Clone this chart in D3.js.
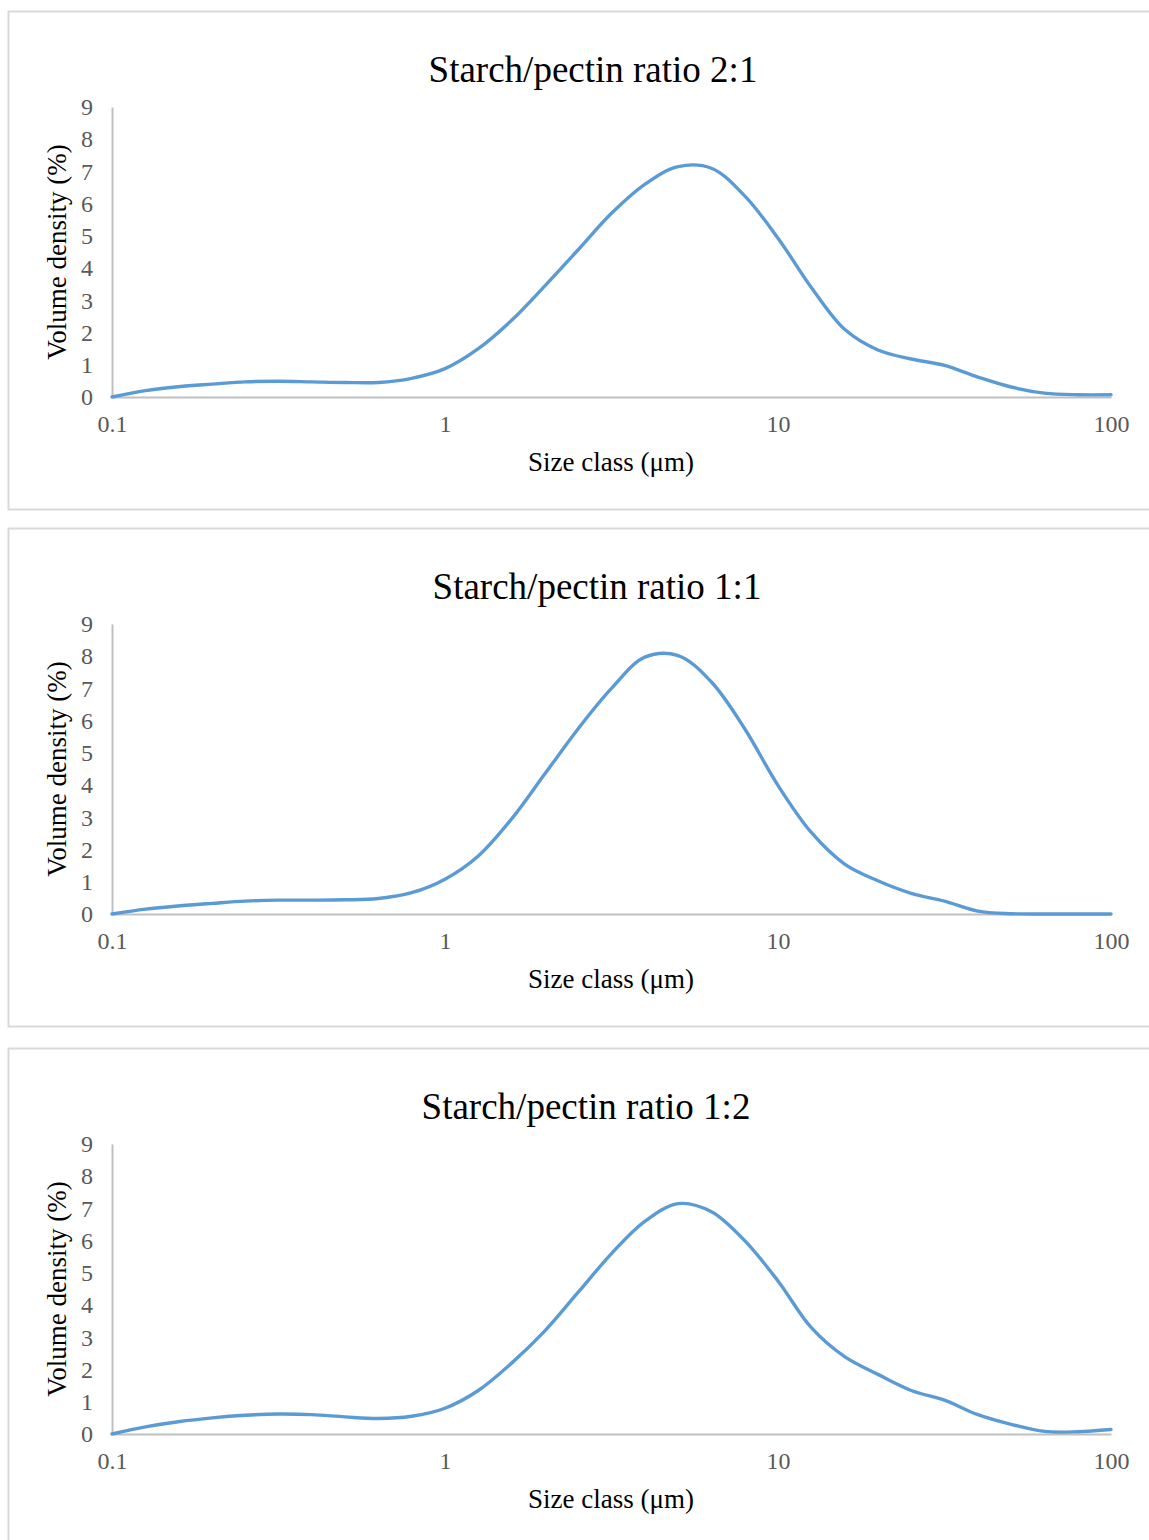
<!DOCTYPE html>
<html lang="en">
<head>
<meta charset="utf-8">
<title>Starch/pectin particle size distribution</title>
<script src="https://d3js.org/d3.v7.min.js"></script>
<style>
  body { margin: 0; background: #fff; }
  text { font-family: "Liberation Serif", "Times New Roman", serif; }
</style>
</head>
<body>
<script>

// size classes (µm) shared by all three measurements
var sizes = [0.1, 0.126, 0.158, 0.2, 0.251, 0.316, 0.398, 0.501, 0.631, 0.794,
             1, 1.259, 1.585, 1.995, 2.512, 3.162, 3.981, 5.012, 6.31, 7.943,
             10, 12.59, 15.85, 19.95, 25.12, 31.62, 39.81, 50.12, 63.1, 79.43, 100];

var ratio21 = [0, 0.2, 0.32, 0.40, 0.47, 0.49, 0.47, 0.45, 0.45, 0.58,
               0.88, 1.5, 2.38, 3.45, 4.57, 5.7, 6.6, 7.15, 7.1, 6.24,
               4.93, 3.4, 2.1, 1.46, 1.18, 0.98, 0.62, 0.31, 0.12, 0.07, 0.07];

var ratio11 = [0, 0.15, 0.25, 0.33, 0.40, 0.43, 0.43, 0.44, 0.48, 0.66,
               1.08, 1.8, 2.95, 4.35, 5.75, 7.0, 7.97, 8.02, 7.2, 5.75,
               3.99, 2.53, 1.55, 1.03, 0.64, 0.40, 0.09, 0.01, 0, 0, 0];

var ratio12 = [0, 0.22, 0.38, 0.5, 0.58, 0.62, 0.6, 0.53, 0.48, 0.55,
               0.8, 1.35, 2.2, 3.2, 4.4, 5.6, 6.6, 7.15, 6.9, 6.0,
               4.75, 3.3, 2.4, 1.85, 1.35, 1.05, 0.6, 0.3, 0.08, 0.07, 0.14];

var titles = ["Starch/pectin ratio 2:1", "Starch/pectin ratio 1:1", "Starch/pectin ratio 1:2"];
var series = [ratio21, ratio11, ratio12];

var xTicks = [0.1, 1, 10, 100];
var yTicks = [0, 1, 2, 3, 4, 5, 6, 7, 8, 9];

var W = 1149, H = 1540;
var panelTops = [11, 528, 1048];
var titleX = [593, 597, 586];
var panelH = 498;

var svg = d3.select("body").append("svg")
    .attr("width", W)
    .attr("height", H);

var x = d3.scaleLog()
    .domain([0.1, 100])
    .range([112, 1111]);

var y = d3.scaleLinear()
    .domain([0, 9])
    .range([386, 96]);

var line = d3.line()
    .curve(d3.curveCatmullRom.alpha(0.5));

function drawPanel(p) {
  var g = svg.append("g").attr("transform", "translate(0," + panelTops[p] + ")");

  // chart frame
  g.append("rect")
      .attr("x", 8.5)
      .attr("y", 0.5)
      .attr("width", 1200)
      .attr("height", panelH)
      .style("fill", "#fff")
      .style("stroke", "#d9d9d9")
      .style("stroke-width", 2);

  g.append("text")
      .attr("x", titleX[p])
      .attr("y", 71)
      .attr("text-anchor", "middle")
      .style("font-size", "37px")
      .style("fill", "#000")
      .text(titles[p]);

  // y axis
  var ya = g.append("g")
      .attr("transform", "translate(112,0)")
      .call(d3.axisLeft(y).tickValues(yTicks).tickSize(0).tickPadding(19).tickFormat(d3.format("d")));
  ya.select(".domain").style("stroke", "#bfbfbf").style("stroke-width", 2);
  ya.selectAll("text").style("font-size", "24px").style("fill", "#595959")
      .style("font-family", "'Liberation Serif', serif");

  // x axis
  var xa = g.append("g")
      .attr("transform", "translate(0,386)")
      .call(d3.axisBottom(x).tickValues(xTicks).tickSize(0).tickPadding(18).tickFormat(function(d) { return d; }));
  xa.select(".domain").style("stroke", "#bfbfbf").style("stroke-width", 2);
  xa.selectAll("text").style("font-size", "24px").style("fill", "#595959")
      .style("font-family", "'Liberation Serif', serif");

  g.append("text")
      .attr("x", 611)
      .attr("y", 460)
      .attr("text-anchor", "middle")
      .style("font-size", "27px")
      .style("fill", "#000")
      .text("Size class (μm)");

  g.append("text")
      .attr("transform", "translate(66," + y(4.5) + ") rotate(-90)")
      .attr("text-anchor", "middle")
      .style("font-size", "27px")
      .style("fill", "#000")
      .text("Volume density (%)");

  var vals = series[p];
  g.append("path")
      .datum(sizes.map(function(s, i) { return [x(s), y(vals[i])]; }))
      .attr("d", line)
      .style("fill", "none")
      .style("stroke", "#5b9bd5")
      .style("stroke-width", 3.4)
      .style("stroke-linecap", "round");
}

for (var p = 0; p < 3; p++) drawPanel(p);

</script>
</body>
</html>
